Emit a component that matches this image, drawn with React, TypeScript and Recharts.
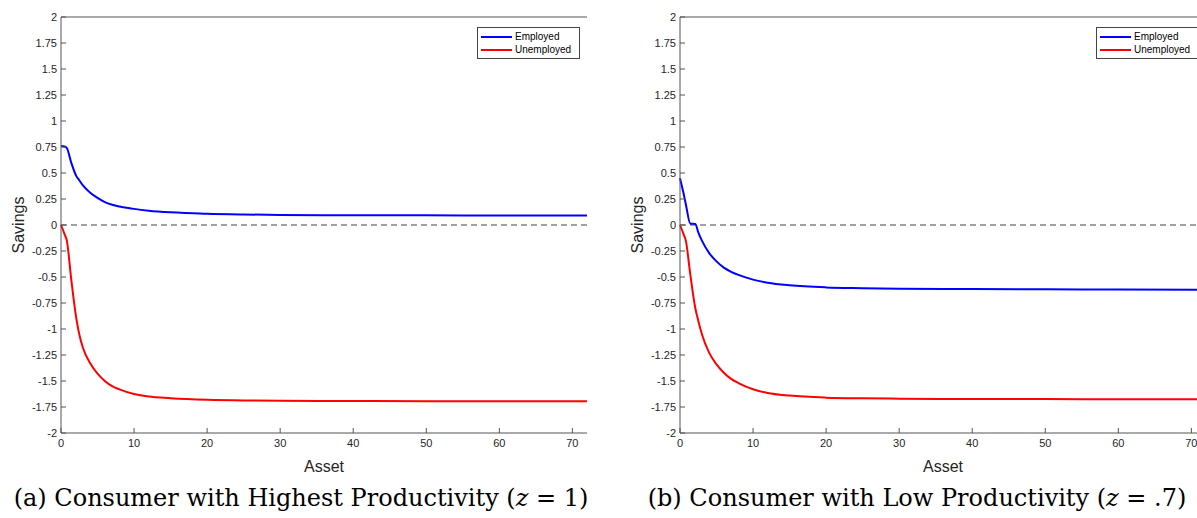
import {
  LineChart,
  Line,
  XAxis,
  YAxis,
  ReferenceLine,
  Legend,
} from 'recharts'

const asset = [0, 0.5, 0.8, 1.4, 2.1, 2.5, 3, 4, 5, 6, 7, 8, 10, 12, 15, 20, 25, 30, 40, 50, 60, 72]

const highEmployed = [0.76, 0.755, 0.74, 0.6, 0.47, 0.43, 0.38, 0.31, 0.26, 0.22, 0.195, 0.178, 0.155, 0.138, 0.122, 0.108, 0.101, 0.097, 0.094, 0.093, 0.092, 0.091]
const highUnemployed = [0, -0.09, -0.15, -0.52, -0.9, -1.05, -1.18, -1.33, -1.43, -1.5, -1.55, -1.58, -1.625, -1.65, -1.665, -1.68, -1.687, -1.69, -1.692, -1.694, -1.695, -1.695]

const lowEmployed = [0.45, 0.3, 0.2, 0.015, 0.01, -0.07, -0.15, -0.27, -0.35, -0.41, -0.45, -0.48, -0.525, -0.555, -0.58, -0.6, -0.607, -0.612, -0.616, -0.618, -0.62, -0.622]
const lowUnemployed = [0, -0.09, -0.15, -0.47, -0.8, -0.92, -1.05, -1.23, -1.34, -1.42, -1.48, -1.52, -1.58, -1.615, -1.64, -1.66, -1.667, -1.67, -1.673, -1.674, -1.675, -1.675]

const xTicks = [0, 10, 20, 30, 40, 50, 60, 70]
const yTicks = [-2, -1.75, -1.5, -1.25, -1, -0.75, -0.5, -0.25, 0, 0.25, 0.5, 0.75, 1, 1.25, 1.5, 1.75, 2]

const axisColor = '#555555'
const textColor = '#262626'

function MatlabLegend({ payload }: any) {
  return (
    <div
      style={{
        border: '1px solid #444',
        background: '#fff',
        padding: '2px 3px',
        fontSize: 10,
        color: '#000',
        lineHeight: '13px',
      }}
    >
      {(payload || []).map((p: any) => (
        <div key={p.value} style={{ display: 'flex', alignItems: 'center' }}>
          <span style={{ width: 31, height: 2, background: p.color, marginRight: 3 }} />
          {p.value}
        </div>
      ))}
    </div>
  )
}

function SavingsChart({ employed, unemployed }: { employed: number[]; unemployed: number[] }) {
  const data = asset.map((a, i) => ({ asset: a, employed: employed[i], unemployed: unemployed[i] }))
  return (
    <LineChart
      width={600}
      height={476}
      data={data}
      margin={{ top: 17, right: 13, bottom: 0, left: 0 }}
      style={{ fontFamily: '"Liberation Sans", Arial, sans-serif' }}
    >
      {/* bottom/left axes carry the labels; ticks point inward like MATLAB */}
      <XAxis
        dataKey="asset"
        type="number"
        domain={[0, 72]}
        ticks={xTicks}
        height={43}
        stroke={axisColor}
        tickSize={-5}
        tickMargin={11}
        tick={{ fill: textColor, fontSize: 11 }}
        label={{ value: 'Asset', position: 'insideBottom', offset: 4, fill: textColor, fontSize: 16 }}
      />
      <XAxis
        xAxisId="top"
        orientation="top"
        dataKey="asset"
        type="number"
        domain={[0, 72]}
        ticks={xTicks}
        mirror
        height={0}
        tick={false}
        tickSize={5}
        stroke={axisColor}
      />
      <YAxis
        type="number"
        domain={[-2, 2]}
        ticks={yTicks}
        interval={0}
        width={61}
        stroke={axisColor}
        tickSize={-5}
        tickMargin={9}
        tick={{ fill: textColor, fontSize: 11 }}
        label={{
          value: 'Savings',
          angle: -90,
          position: 'insideLeft',
          offset: 18,
          fill: textColor,
          fontSize: 16,
          style: { textAnchor: 'middle' },
        }}
      />
      <YAxis
        yAxisId="right"
        orientation="right"
        type="number"
        domain={[-2, 2]}
        ticks={yTicks}
        interval={0}
        mirror
        width={0}
        tick={false}
        tickSize={5}
        stroke={axisColor}
      />
      {/* top edge of the box */}
      <ReferenceLine y={2} stroke={axisColor} />
      <ReferenceLine y={0} stroke="#444" strokeDasharray="6 4" strokeWidth={1.2} />
      <Legend
        layout="horizontal"
        verticalAlign="middle"
        align="center"
        content={<MatlabLegend />}
        wrapperStyle={{ top: 27, left: 477, right: 'auto', bottom: 'auto', width: 103 }}
      />
      <Line
        name="Employed"
        dataKey="employed"
        stroke="#0000ff"
        strokeWidth={2}
        dot={false}
        type="monotone"
        isAnimationActive={false}
      />
      <Line
        name="Unemployed"
        dataKey="unemployed"
        xAxisId="top"
        yAxisId="right"
        stroke="#ff0000"
        strokeWidth={2}
        dot={false}
        type="monotone"
        isAnimationActive={false}
      />
    </LineChart>
  )
}

const captionStyle: React.CSSProperties = {
  position: 'absolute',
  top: 484,
  width: 600,
  textAlign: 'center',
  fontFamily: '"DejaVu Serif", "Liberation Serif", serif',
  fontSize: 24,
  color: '#000',
  whiteSpace: 'nowrap',
}

export default function App() {
  return (
    <div
      style={{
        position: 'absolute',
        left: 0,
        top: 0,
        width: 1197,
        height: 518,
        overflow: 'hidden',
        background: '#fff',
      }}
    >
      <div style={{ position: 'absolute', left: 0, top: 0 }}>
        <SavingsChart employed={highEmployed} unemployed={highUnemployed} />
      </div>
      <div style={{ position: 'absolute', left: 619, top: 0 }}>
        <SavingsChart employed={lowEmployed} unemployed={lowUnemployed} />
      </div>
      <div style={{ ...captionStyle, left: 1 }}>
        (a) Consumer with Highest Productivity (<i>z</i> = 1)
      </div>
      <div style={{ ...captionStyle, left: 617 }}>
        (b) Consumer with Low Productivity (<i>z</i> = .7)
      </div>
    </div>
  )
}
